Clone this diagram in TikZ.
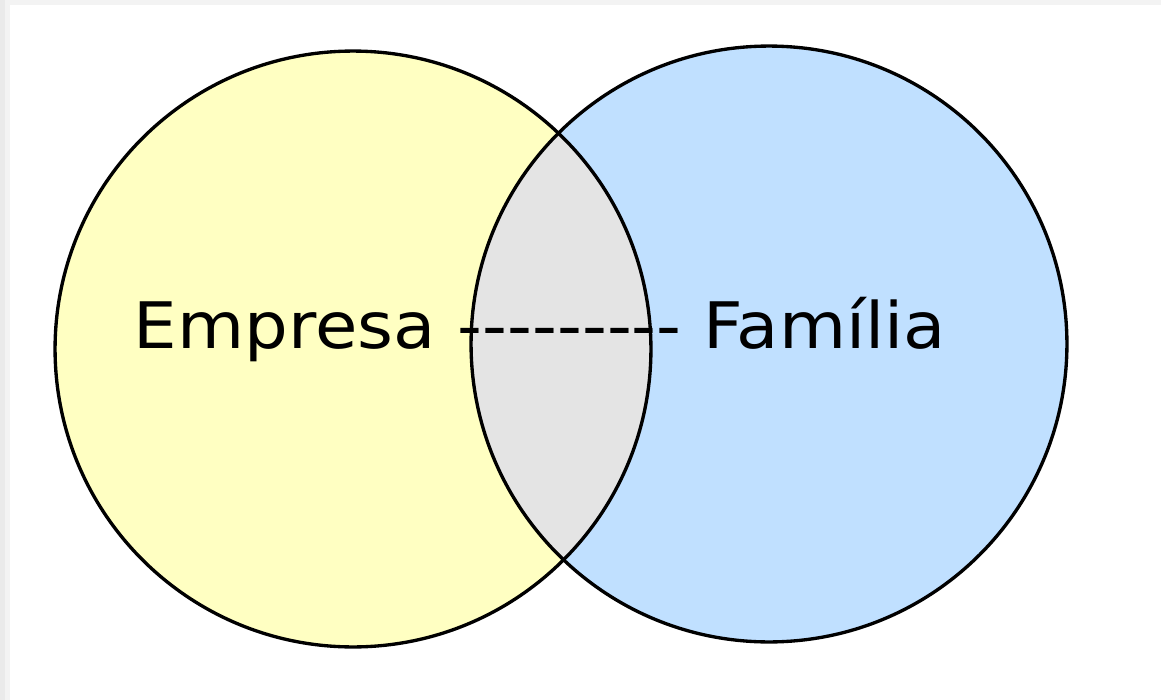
\documentclass[tikz,border=0pt]{standalone}
\usepackage{fontspec}
\setmainfont{DejaVu Sans}
\definecolor{empresafill}{RGB}{255,255,194}
\definecolor{familiafill}{RGB}{192,224,255}
\definecolor{commonfill}{RGB}{228,228,228}
\definecolor{edgegray}{RGB}{234,234,234}
\definecolor{edgelight}{RGB}{243,243,243}

\begin{document}
\begin{tikzpicture}[x=0.02cm,y=-0.02cm]
  \tikzstyle{every node}+=[inner sep=0pt]
  \tikzstyle{ring}=[line width=1.9pt, black]
  \useasboundingbox (0,0) rectangle (1161,700);
  % page edge
  \fill [edgelight] (0,0) rectangle (1161,5);
  \fill [edgegray] (0,0) rectangle (5,700);
  \fill [edgelight] (5,5) rectangle (10,700);
  % the two sets
  \coordinate (emp) at (353,349);
  \coordinate (fam) at (769,344);
  \fill [empresafill] (emp) circle (5.96cm);
  \fill [familiafill] (fam) circle (5.96cm);
  \begin{scope}
    \clip (emp) circle (5.96cm);
    \fill [commonfill] (fam) circle (5.96cm);
  \end{scope}
  \draw [ring] (emp) circle (5.96cm);
  \draw [ring] (fam) circle (5.96cm);
  \draw (540,348) node [anchor=base, font=\fontsize{36.5pt}{40pt}\selectfont, xscale=1.075] (lbl) {Empresa -{}-{}-{}-{}-{}-{}-{}-{}- Família};
\end{tikzpicture}
\end{document}
